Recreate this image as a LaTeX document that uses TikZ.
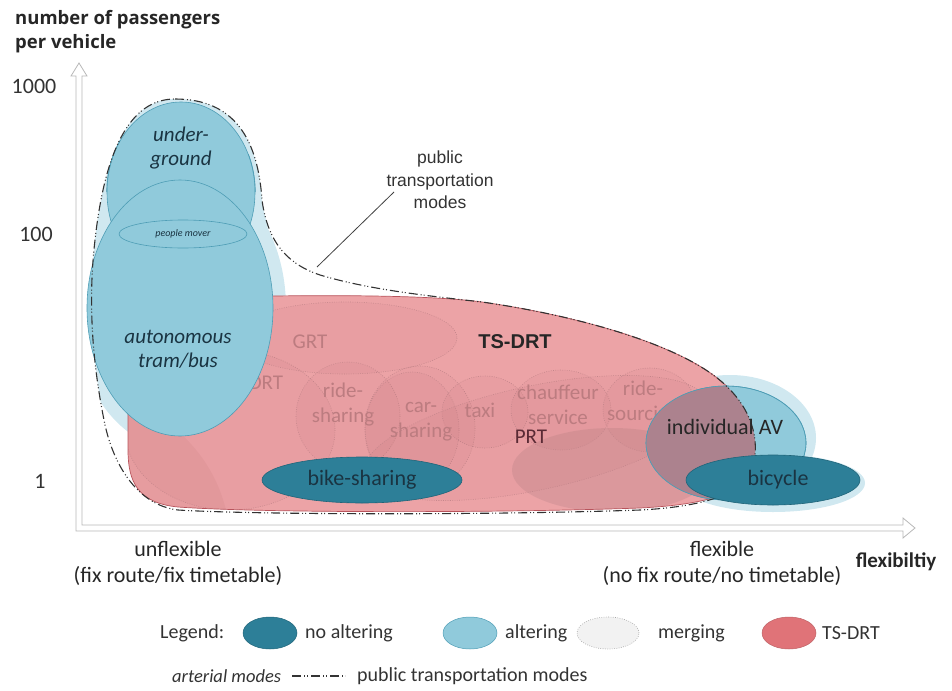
\documentclass[tikz,border=0pt]{standalone}
\usepackage{fontspec}
\setmainfont{Carlito}
\newfontfamily\arialfont{Liberation Sans}
\newfontfamily\headfont{Open Sans}
\usetikzlibrary{shapes.geometric}

\definecolor{noalter}{HTML}{2D7F98}
\definecolor{noalterline}{HTML}{1F6479}
\definecolor{alter}{HTML}{90CADB}
\definecolor{alterline}{HTML}{4E9DB5}
\definecolor{glowblue}{HTML}{D0E8F0}
\definecolor{tsfill}{HTML}{ECA3A6}
\definecolor{tsline}{HTML}{B8545C}
\definecolor{legendred}{HTML}{E07378}
\definecolor{mergeline}{HTML}{C4868B}
\definecolor{mergefill}{HTML}{9A4050}
\definecolor{patchfill}{HTML}{6A5060}
\definecolor{mergetext}{HTML}{BC7C80}
\definecolor{mauve}{HTML}{AC828E}
\definecolor{darktext}{HTML}{1A3442}
\definecolor{prttext}{HTML}{5A2A35}

% outline of the TS-DRT field
\newcommand\tsdrtpath{(128,345) .. controls (128,308) and (142,299) .. (178,298)
  .. controls (320,294) and (430,295) .. (482,302)
  .. controls (580,316) and (680,345) .. (722,382)
  .. controls (752,408) and (760,440) .. (753,466)
  .. controls (746,495) and (700,505) .. (640,508)
  .. controls (500,513) and (260,513) .. (178,507)
  .. controls (138,503) and (128,482) .. (128,450) -- cycle}

% outline of the public transportation modes
\newcommand\ptpath{(175,99) .. controls (235,99) and (258,140) .. (262,200)
  .. controls (268,245) and (290,265) .. (320,275)
  .. controls (370,290) and (430,296) .. (482,302)
  .. controls (580,316) and (680,345) .. (722,382)
  .. controls (752,408) and (760,440) .. (753,466)
  .. controls (746,495) and (700,507) .. (640,510)
  .. controls (500,515) and (260,515) .. (178,510)
  .. controls (136,505) and (112,462) .. (104,420)
  .. controls (92,360) and (88,300) .. (95,240)
  .. controls (105,150) and (130,99) .. (175,99) -- cycle}

\begin{document}
\begin{tikzpicture}[x=1pt,y=-1pt,
  axisarrow/.style={draw=black!28, line width=0.8pt, fill=white},
  blueell/.style={ellipse, draw=alterline, line width=0.6pt, fill=alter, inner sep=0pt},
  darkell/.style={ellipse, draw=noalterline, line width=0.6pt, fill=noalter, inner sep=0pt,
    text=darktext, font=\fontsize{22}{26}\selectfont},
  mergeell/.style={draw=mergeline, line width=0.6pt, dash pattern=on 0.8pt off 1.5pt,
    fill=mergefill, fill opacity=0.045},
  mergelbl/.style={text=mergetext, font=\fontsize{21}{25}\selectfont, align=center, inner sep=0pt},
  bluelbl/.style={text=darktext, font=\fontsize{21}{24}\selectfont\itshape, align=center, inner sep=0pt},
  ticklbl/.style={text=black!80, font=\fontsize{22}{26}\selectfont, inner sep=0pt},
  axislbl/.style={text=black!85, font=\fontsize{22}{26}\selectfont, align=center, inner sep=0pt},
  legtext/.style={text=black!80, font=\fontsize{20}{24}\selectfont, anchor=west, inner sep=0pt},
  legell/.style={ellipse, minimum width=54pt, minimum height=32pt, inner sep=0pt},
  ptline/.style={draw=black!80, line width=1.1pt,
    dash pattern=on 9pt off 3pt on 1pt off 2pt on 1pt off 3pt},
]
\useasboundingbox (0,0) rectangle (952,690);

% axes as hollow arrows
\draw[axisarrow] (76,531) -- (76,76) -- (71,76) -- (79,63) -- (87,76) -- (82,76) -- (82,525)
  -- (903,525) -- (903,518) -- (915,528) -- (903,538) -- (903,531) -- cycle;

% axis titles and ticks
\node[anchor=west, align=left, inner sep=0pt, text=black!85,
  font=\headfont\bfseries\fontsize{18.5}{24}\selectfont] (ytitle) at (15,32)
  {number of passengers\\per vehicle};
\node[ticklbl] (t1000) at (34,86) {1000};
\node[ticklbl] (t100) at (36,234) {100};
\node[ticklbl] (t1) at (40,481) {1};
\node[axislbl] (unflex) at (178,563) {unflexible\\(fix route/fix timetable)};
\node[axislbl] (flex) at (722,563) {flexible\\(no fix route/no timetable)};
\node[inner sep=0pt, text=black!85, font=\bfseries\fontsize{21}{24}\selectfont] (xtitle) at (896,562) {flexibiltiy};

% soft halo around the altering modes
\begin{scope}
  \clip \ptpath;
  \fill[glowblue] (181,192) ellipse [x radius=92, y radius=102];
  \fill[glowblue] (180,308) ellipse [x radius=106, y radius=142];
\end{scope}
\fill[glowblue] (730,438) ellipse [x radius=86, y radius=63];
\fill[glowblue] (773,483) ellipse [x radius=92, y radius=29];

% TS-DRT field
\fill[tsfill] \tsdrtpath;

% merging modes inside the TS-DRT field
\begin{scope}
  \clip \tsdrtpath;
  \fill[mergefill, fill opacity=0.07] (80,545) circle [radius=150];
  \fill[patchfill, fill opacity=0.13] (612,470) ellipse [x radius=100, y radius=42];
  \path[mergeell] (230,430) ellipse [x radius=105, y radius=80];
  \path[mergeell] (345,338) ellipse [x radius=112, y radius=36];
  \path[mergeell] (348,416) ellipse [x radius=52, y radius=54];
  \path[mergeell] (420,428) ellipse [x radius=55, y radius=62];
  \path[mergeell] (412,430) ellipse [x radius=47, y radius=58];
  \path[mergeell] (485,412) ellipse [x radius=43, y radius=36];
  \path[mergeell, rotate around={12:(535,438)}] (535,438) ellipse [x radius=175, y radius=52];
  \path[mergeell] (561,410) ellipse [x radius=50, y radius=40];
  \path[mergeell] (650,410) ellipse [x radius=47, y radius=42];
\end{scope}
\draw[tsline, line width=0.7pt] \tsdrtpath;

\node[mergelbl] (grt) at (310,342) {GRT};
\node[mergelbl] (drt) at (266,383) {DRT};
\node[mergelbl] (rideshare) at (343,405) {ride-\\sharing};
\node[mergelbl] (carshare) at (421,422) {car-\\sharing};
\node[mergelbl] (taxi) at (480,410) {taxi};
\node[mergelbl] (chauffeur) at (558,405) {chauffeur\\service};
\node[mergelbl] (ridesource) at (643,403) {ride-\\sourcing};
\node[mergelbl, text=prttext] (prt) at (531,437) {PRT};
\node[inner sep=0pt, text=black!85, font=\arialfont\bfseries\fontsize{20}{24}\selectfont] (tsdrt) at (515,342) {TS-DRT};

% arterial modes: underground and autonomous tram/bus
\node[blueell, minimum width=148pt, minimum height=180pt] (underground) at (181,192) {};
\node[blueell, minimum width=186pt, minimum height=256pt] (tram) at (180,308) {};
\draw[alterline, line width=0.6pt] (underground.west) arc[start angle=180, end angle=215, x radius=74, y radius=90];
\draw[alterline, line width=0.6pt] (underground.east) arc[start angle=0, end angle=-25, x radius=74, y radius=90];
\node[ellipse, draw=alterline, line width=0.6pt, minimum width=128pt, minimum height=28pt, inner sep=0pt,
  text=darktext, font=\fontsize{10}{12}\selectfont\itshape] (mover) at (183,234) {people mover};
\node[bluelbl] (ugtext) at (181,148) {under-\\ground};
\node[bluelbl] (tramtext) at (178,349) {autonomous\\tram/bus};

% individual AV, partly over the TS-DRT field
\node[blueell, minimum width=160pt, minimum height=114pt] (av) at (726,443) {};
\begin{scope}
  \clip \tsdrtpath;
  \fill[mauve] (726,443) ellipse [x radius=80, y radius=57];
\end{scope}
\draw[alterline, line width=0.6pt] (av) ellipse [x radius=80, y radius=57];

% public transportation modes
\draw[ptline] \ptpath;
\coordinate (ptend) at (317,267);
\node[inner sep=0pt, align=center, text=black!80, font=\arialfont\fontsize{17.5}{22.5}\selectfont] (ptlabel) at (440,180)
  {public\\transportation\\modes};
\coordinate (ptstart) at (394,192);
\draw[black!75, line width=0.8pt] (ptstart) -- (ptend);

% modes without altering
\node[darkell, minimum width=200pt, minimum height=46pt] (bike) at (362,480) {bike-sharing};
\node[darkell, minimum width=174pt, minimum height=50pt] (bicycle) at (773,480) {\hspace*{10pt}bicycle};
\node[inner sep=0pt, text=black!85, font=\fontsize{22}{26}\selectfont] (avtext) at (725,427) {individual AV};

% legend
\node[legtext] (legend) at (160,633) {Legend:};
\node[legell, fill=noalter, draw=noalterline, line width=0.5pt] (lnoalter) at (270,633) {};
\node[legtext] (tnoalter) at (305,633) {no altering};
\node[legell, fill=alter, draw=alterline, line width=0.5pt] (lalter) at (470,633) {};
\node[legtext] (talter) at (505,633) {altering};
\node[legell, minimum width=62pt, fill=black!5, draw=black!35, line width=0.6pt, dash pattern=on 0.8pt off 1.5pt] (lmerge) at (608,633) {};
\node[legtext] (tmerge) at (658,633) {merging};
\node[legell, fill=legendred, draw=legendred!85!black, line width=0.5pt] (lts) at (789,633) {};
\node[legtext] (tts) at (822,633) {TS-DRT};
\node[legtext, font=\fontsize{18.5}{22}\selectfont\itshape] (arterial) at (172,676) {arterial modes};
\coordinate (lpt1) at (292,676);
\coordinate (lpt2) at (345,676);
\draw[ptline] (lpt1) -- (lpt2);
\node[legtext] (tpt) at (357,676) {public transportation modes};
\end{tikzpicture}
\end{document}
